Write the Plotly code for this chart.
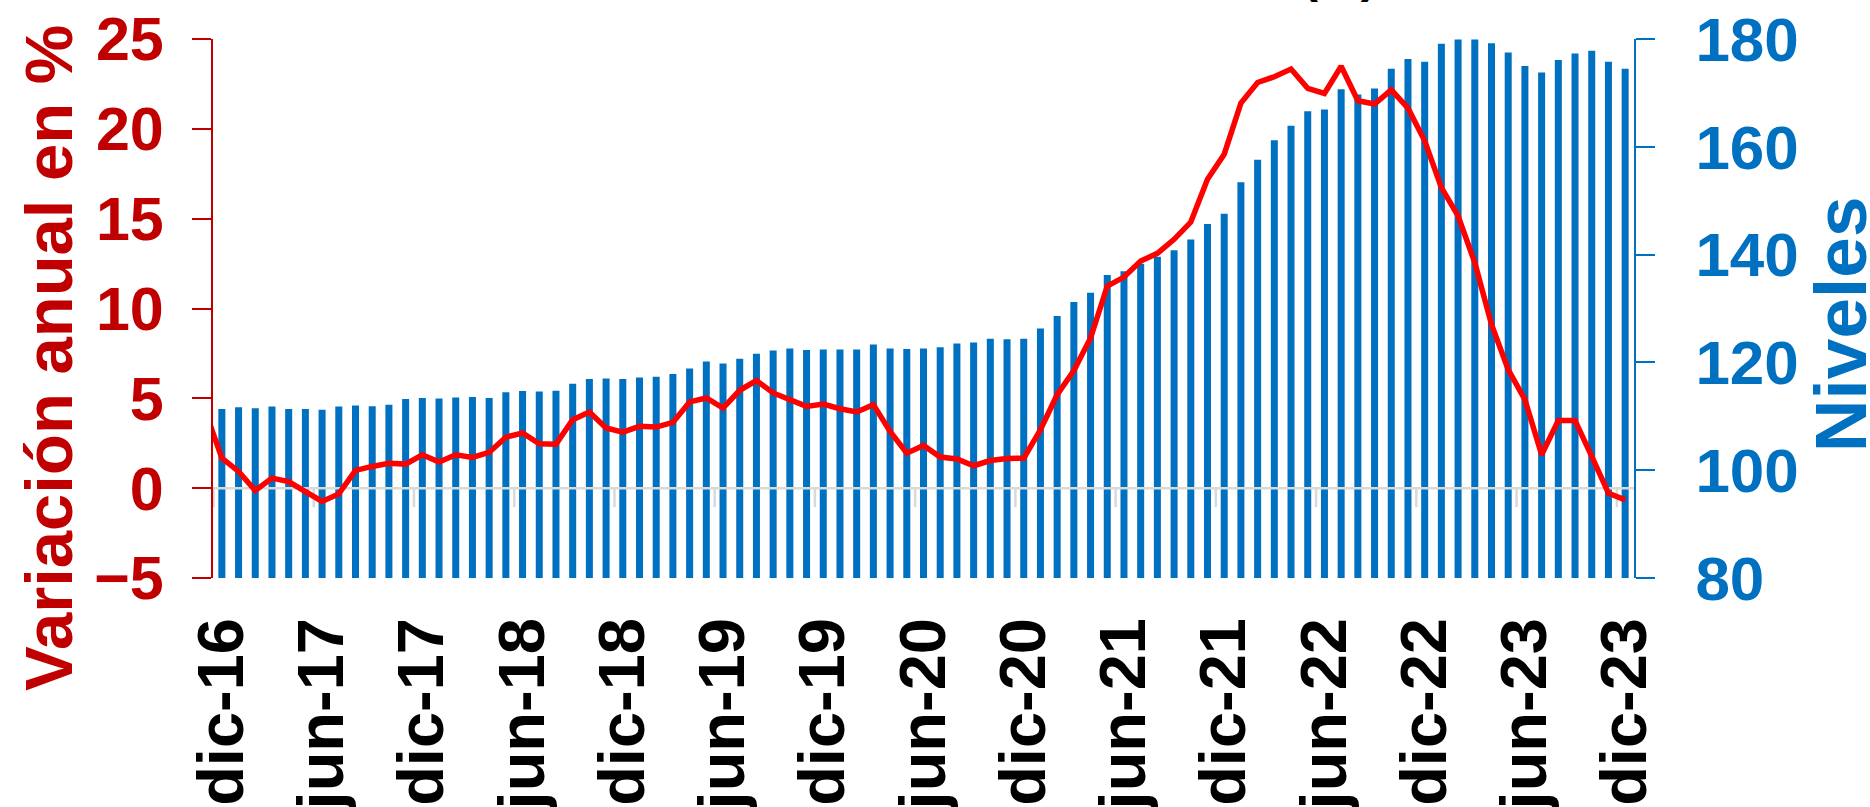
import plotly.graph_objects as go

# ---- data (monthly, dic-16 .. dic-23) ----
tick_labels = ["dic-16", "jun-17", "dic-17", "jun-18", "dic-18", "jun-19", "dic-19",
               "jun-20", "dic-20", "jun-21", "dic-21", "jun-22", "dic-22", "jun-23", "dic-23"]

niveles = [
    111.35, 111.7, 111.5, 111.8, 111.35, 111.35, 111.2, 111.8, 112.0, 111.85, 112.15, 113.2,
    113.4, 113.3, 113.5, 113.6, 113.4,
    114.45, 114.7, 114.6, 114.75, 116.05, 116.9, 117.0, 116.9, 117.2, 117.35, 117.85, 118.85,
    120.15, 119.8, 120.7, 121.6, 122.2,
    122.57, 122.3, 122.4, 122.4, 122.4, 123.3, 122.6, 122.5, 122.6, 122.8, 123.5, 123.7,
    124.4, 124.3, 124.4, 126.3, 128.6, 131.2,
    132.9, 136.2, 136.9, 138.3, 139.6, 140.8, 142.8, 145.7, 147.6, 153.4, 157.6, 161.2,
    163.9, 166.6, 166.9, 170.7, 169.7,
    170.8, 174.5, 176.3, 175.8, 179.1, 179.9, 179.9, 179.2, 177.5, 175.0, 173.8, 176.1,
    177.3, 177.8, 175.8, 174.5,
]

# previous month (nov-16) value, then dic-16 .. dic-23
variacion_prev = [4.3]
variacion = [
    1.67, 0.93, -0.13, 0.56, 0.37, -0.19, -0.74, -0.32, 0.99, 1.21, 1.39, 1.34, 1.86, 1.45,
    1.86, 1.71, 1.99,
    2.84, 3.07, 2.47, 2.45, 3.81, 4.24, 3.35, 3.12, 3.44, 3.40, 3.66, 4.80, 5.02, 4.46, 5.45,
    5.99, 5.30,
    4.89, 4.55, 4.68, 4.42, 4.24, 4.65, 3.16, 1.95, 2.38, 1.73, 1.62, 1.25, 1.54, 1.65, 1.67,
    3.25, 5.20, 6.55,
    8.36, 11.25, 11.75, 12.64, 13.07, 13.85, 14.81, 17.19, 18.59, 21.43, 22.58, 22.90, 23.33,
    22.25, 21.97, 23.48, 21.56,
    21.38, 22.17, 21.15, 19.33, 16.73, 15.15, 12.55, 9.11, 6.60, 4.93, 1.86, 3.77, 3.77,
    1.77, -0.28, -0.65,
]

n = len(niveles)
x_idx = list(range(n))
tick_step = 6
tick_vals = list(range(0, n, tick_step))

RED = "#C00000"
BLUE = "#0070C0"
FONT = "Liberation Sans"
X_RANGE = [-0.53, n - 1 + 0.53]
Y_PCT = [-5, 25]
Y_LVL = [80, 180]

fig = go.Figure()

# bars (levels) on the base axis (right side)
fig.add_trace(go.Bar(x=x_idx, y=niveles, marker=dict(color=BLUE, line=dict(width=0)),
                     width=0.42, yaxis="y", name="Niveles", showlegend=False))

# zero line with tick marks between categories (category axis at 0 %)
ppx = (Y_PCT[1] - Y_PCT[0]) / 539.0
gx, gy = [X_RANGE[0], X_RANGE[1], None], [0, 0, None]
for k in range(0, n + 1, tick_step):
    xb = k - 0.5
    gx += [xb, xb, None]
    gy += [0, -19 * ppx, None]
fig.add_trace(go.Scatter(x=gx, y=gy, mode="lines", line=dict(color="#D9D9D9", width=2.5),
                         yaxis="y2", hoverinfo="skip", showlegend=False))

# line (annual variation) on the overlay axis (left side)
fig.add_trace(go.Scatter(x=[-1] + x_idx, y=variacion_prev + variacion, mode="lines",
                         line=dict(color="#FF0000", width=5.5), yaxis="y2",
                         name="Variación anual", showlegend=False))

fig.update_layout(
    width=1870, height=807,
    margin=dict(l=213, r=236, t=39, b=229, autoexpand=False),
    plot_bgcolor="white", paper_bgcolor="white",
    showlegend=False,
    xaxis=dict(range=X_RANGE, tickmode="array", tickvals=tick_vals, ticktext=tick_labels,
               tickangle=-90, ticks="", showline=False, showgrid=False, zeroline=False,
               tickfont=dict(family=FONT, size=65, color="black", weight="bold"),
               ticklabelstandoff=26, automargin=False),
    yaxis=dict(range=Y_LVL, dtick=20, side="right", showgrid=False, zeroline=False,
               showline=True, linecolor=BLUE, linewidth=2, ticks="outside", ticklen=19,
               tickwidth=2, tickcolor=BLUE, ticklabelstandoff=28,
               tickfont=dict(family=FONT, size=62, color=BLUE, weight="bold"), automargin=False),
    yaxis2=dict(range=Y_PCT, dtick=5, side="left", overlaying="y", showgrid=False,
                zeroline=False, showline=True, linecolor=RED, linewidth=2, ticks="outside",
                ticklen=19, tickwidth=2, tickcolor=RED, ticklabelstandoff=16,
                tickfont=dict(family=FONT, size=61, color=RED, weight="bold"), automargin=False),
    annotations=[
        dict(text="Variación anual en %", xref="paper", yref="paper", x=-0.1161, y=0.408,
             textangle=-90, showarrow=False, xanchor="center", yanchor="middle",
             font=dict(family=FONT, size=67, color=RED, weight="bold")),
        dict(text="Niveles", xref="paper", yref="paper", x=1.145, y=0.471,
             textangle=-90, showarrow=False, xanchor="center", yanchor="middle",
             font=dict(family=FONT, size=73, color=BLUE, weight="bold")),
        dict(text="(%)", xref="paper", yref="paper", x=0.793, y=1.117,
             showarrow=False, xanchor="center", yanchor="middle",
             font=dict(family=FONT, size=48, color="black", weight="bold")),
    ],
)

fig.write_html("out.html", config={"displayModeBar": False},
               post_script="document.body.style.margin='0px';")
